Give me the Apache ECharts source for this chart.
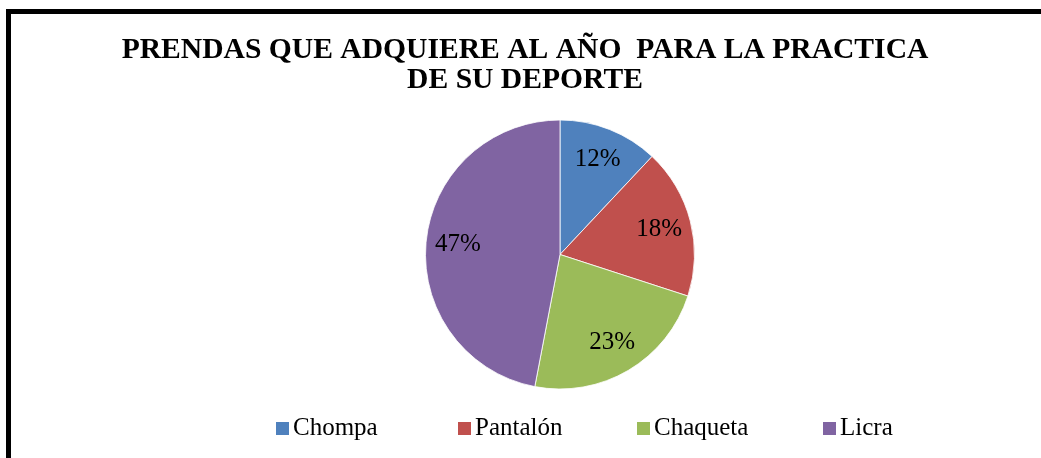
<!DOCTYPE html>
<html>
<head>
<meta charset="utf-8">
<script src="https://cdn.jsdelivr.net/npm/echarts@6/dist/echarts.min.js"></script>
<style>
html,body{margin:0;padding:0;background:#fff;}
#c{width:1041px;height:458px;}
</style>
</head>
<body>
<div id="c"></div>
<script>
const titleText = 'PRENDAS QUE ADQUIERE AL AÑO  PARA LA PRACTICA\nDE SU DEPORTE';
const categories = ['Chompa', 'Pantalón', 'Chaqueta', 'Licra'];
const values = [12, 18, 23, 47];
const colors = ['#4F81BD', '#C0504D', '#9BBB59', '#8064A2'];
const legendLefts = [276, 458, 637, 823];

const serif = '"Liberation Serif", "Times New Roman", serif';
const pieData = categories.map((c, i) => ({ name: c, value: values[i], itemStyle: { color: colors[i] } }));
const labelData = categories.map((c, i) => ({ name: c, value: values[i] }));

const chart = echarts.init(document.getElementById('c'), null, { renderer: 'canvas' });
chart.setOption({
  animation: false,
  backgroundColor: '#fff',
  title: {
    text: titleText,
    left: 525,
    top: 35,
    textAlign: 'center',
    padding: 0,
    textStyle: { fontFamily: serif, fontWeight: 'bold', fontSize: 29.6, lineHeight: 30, color: '#000' }
  },
  graphic: [{
    type: 'rect',
    shape: { x: 8.5, y: 11.5, width: 1100, height: 500 },
    style: { fill: 'none', stroke: '#000', lineWidth: 5 },
    silent: true,
    z: 100
  }],
  legend: categories.map((c, i) => ({
    data: [c],
    left: legendLefts[i],
    top: 416,
    padding: 0,
    icon: 'rect',
    itemWidth: 13,
    itemHeight: 13,
    itemStyle: { borderWidth: 0 },
    selectedMode: false,
    textStyle: { fontFamily: serif, fontSize: 25, color: '#000', padding: [0, 0, 0, -1] }
  })),
  series: [
    {
      type: 'pie',
      center: [560, 254.5],
      radius: [0, 134.5],
      startAngle: 90,
      clockwise: true,
      label: { show: false },
      labelLine: { show: false },
      itemStyle: { borderColor: '#fff', borderWidth: 0.8 },
      emphasis: { disabled: true },
      silent: true,
      data: pieData
    },
    {
      type: 'pie',
      center: [560, 254.5],
      radius: [64, 135],
      startAngle: 90,
      clockwise: true,
      silent: true,
      emphasis: { disabled: true },
      itemStyle: { color: 'rgba(0,0,0,0)' },
      label: {
        show: true,
        position: 'inside',
        formatter: '{c}%',
        fontFamily: serif,
        fontSize: 25,
        color: '#000'
      },
      labelLine: { show: false },
      data: labelData
    }
  ]
});
</script>
</body>
</html>
